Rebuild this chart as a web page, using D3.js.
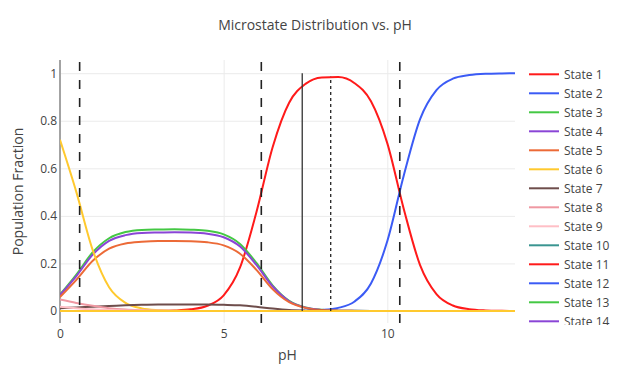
<!doctype html>
<html>
<head>
    <meta charset="utf-8" />
    <title></title>
    <style>
        body { margin: 0; background: #fff; }
        svg text { font-family: "Open Sans", sans-serif; fill: #444; }
    </style>
</head>
<body>
    <div id="chart"></div>

    <script src="https://cdn.jsdelivr.net/npm/d3@7"></script>
    <script>
        // pH grid the populations were read at
        var ph = [0, 0.5, 1, 1.5, 2, 2.5, 3, 3.5, 4, 4.5, 5, 5.5, 6, 6.5, 7,
                  7.5, 8, 8.5, 9, 9.5, 10, 10.5, 11, 11.5, 12, 12.5, 13, 13.5, 13.9];

        var state1 = [0, 0, 0, 0, 0.0001, 0.0002, 0.0007, 0.0022, 0.007, 0.022, 0.066, 0.183, 0.415, 0.691, 0.876,
                      0.955, 0.982, 0.984, 0.958, 0.882, 0.705, 0.43, 0.193, 0.071, 0.023, 0.0075, 0.0024, 0.0008, 0.0003];
        var state2 = [0, 0, 0, 0, 0, 0, 0, 0, 0, 0, 0, 0, 0, 0.0001, 0.0004,
                      0.0013, 0.0041, 0.013, 0.04, 0.116, 0.294, 0.569, 0.807, 0.929, 0.977, 0.992, 0.9976, 0.9992, 0.9997];
        var state3 = [0.069, 0.153, 0.247, 0.306, 0.332, 0.341, 0.343, 0.344, 0.342, 0.337, 0.322, 0.282, 0.202, 0.107, 0.043,
                      0.015, 0.005, 0.0015, 0.0005, 0.0001, 0, 0, 0, 0, 0, 0, 0, 0, 0];
        var state4 = [0.067, 0.147, 0.237, 0.295, 0.319, 0.328, 0.33, 0.331, 0.33, 0.325, 0.31, 0.271, 0.194, 0.103, 0.041,
                      0.014, 0.0046, 0.0015, 0.0005, 0.0001, 0, 0, 0, 0, 0, 0, 0, 0, 0];
        var state5 = [0.059, 0.131, 0.211, 0.262, 0.284, 0.291, 0.294, 0.294, 0.293, 0.289, 0.276, 0.241, 0.173, 0.091, 0.037,
                      0.013, 0.004, 0.0013, 0.0004, 0.0001, 0, 0, 0, 0, 0, 0, 0, 0, 0];
        var state6 = [0.72, 0.5, 0.256, 0.1, 0.0345, 0.011, 0.0036, 0.0011, 0.0004, 0.0001, 0, 0, 0, 0, 0,
                      0, 0, 0, 0, 0, 0, 0, 0, 0, 0, 0, 0, 0, 0];
        var state7 = [0.012, 0.015, 0.018, 0.021, 0.024, 0.026, 0.027, 0.027, 0.027, 0.027, 0.026, 0.024, 0.018, 0.01, 0.004,
                      0.0015, 0.0005, 0.0002, 0, 0, 0, 0, 0, 0, 0, 0, 0, 0, 0];
        var state8 = [0.048, 0.034, 0.022, 0.012, 0.006, 0.003, 0.001, 0.0005, 0, 0, 0, 0, 0, 0, 0,
                      0, 0, 0, 0, 0, 0, 0, 0, 0, 0, 0, 0, 0, 0];
        var state9 = [0.018, 0.012, 0.007, 0.004, 0.002, 0.001, 0.0005, 0, 0, 0, 0, 0, 0, 0, 0,
                      0, 0, 0, 0, 0, 0, 0, 0, 0, 0, 0, 0, 0, 0];
        // states 10-16 stay at zero over the whole range
        var stateFlat = [0, 0, 0, 0, 0, 0, 0, 0, 0, 0, 0, 0, 0, 0, 0,
                         0, 0, 0, 0, 0, 0, 0, 0, 0, 0, 0, 0, 0, 0];

        var stateNames = ["State 1", "State 2", "State 3", "State 4", "State 5", "State 6", "State 7", "State 8",
                          "State 9", "State 10", "State 11", "State 12", "State 13", "State 14", "State 15", "State 16"];
        var stateValues = [state1, state2, state3, state4, state5, state6, state7, state8,
                           state9, stateFlat, stateFlat, stateFlat, stateFlat, stateFlat, stateFlat, stateFlat];
        var colors = ["#ff1a1a", "#3b5bf5", "#44c844", "#8a45d6", "#ec6a37", "#ffc92e", "#6e4d4b", "#ef98a2", "#ffbfc6", "#3a9591"];

        // pKa markers and reference lines
        var pkaPh = [0.6, 6.15, 10.38];
        var physPh = 7.4;
        var peakPh = 8.27, peakValue = 0.985;

        var xTicks = [0, 5, 10];
        var yTicks = [0, 0.2, 0.4, 0.6, 0.8, 1];

        var W = 630, H = 365;
        var pLeft = 60, pRight = 515, pTop = 60, pBottom = 323;

        var svg = d3.select("#chart").append("svg").attr("width", W).attr("height", H);

        var x = d3.scaleLinear().domain([0, 13.9]).range([pLeft, pRight]);
        var y = d3.scaleLinear().domain([-0.0505, 1.0555]).range([pBottom, pTop]);

        // grid + tick labels
        var yAxis = svg.append("g").attr("transform", "translate(" + pLeft + ",0)")
            .call(d3.axisLeft(y).tickValues(yTicks).tickSize(-(pRight - pLeft)).tickPadding(3).tickFormat(d3.format("~g")));
        yAxis.select(".domain").remove();
        yAxis.selectAll("line").attr("stroke", "#ebebeb");
        yAxis.selectAll("text").attr("font-size", 12).style("fill", "#444");

        var xAxis = svg.append("g").attr("transform", "translate(0," + pBottom + ")")
            .call(d3.axisBottom(x).tickValues(xTicks).tickSize(-(pBottom - pTop)).tickPadding(6.5));
        xAxis.select(".domain").remove();
        xAxis.selectAll("line").attr("stroke", "#ebebeb");
        xAxis.selectAll("text").attr("font-size", 12).style("fill", "#444");

        // zero lines
        svg.append("line").attr("x1", pLeft).attr("x2", pRight).attr("y1", y(0)).attr("y2", y(0))
            .attr("stroke", "#a3a3a3").attr("stroke-width", 2);
        svg.append("line").attr("x1", x(0)).attr("x2", x(0)).attr("y1", pTop).attr("y2", pBottom)
            .attr("stroke", "#a3a3a3").attr("stroke-width", 2);

        svg.append("clipPath").attr("id", "plotclip").append("rect")
            .attr("x", pLeft).attr("y", pTop).attr("width", pRight - pLeft).attr("height", pBottom - pTop);

        var plot = svg.append("g").attr("clip-path", "url(#plotclip)");

        var line = d3.line()
            .x(function(d, i) { return x(ph[i]); })
            .y(function(d) { return y(d); })
            .curve(d3.curveMonotoneX);

        plot.selectAll("path.state").data(stateValues).enter().append("path")
            .attr("class", "state")
            .attr("d", line)
            .attr("fill", "none")
            .attr("stroke", function(d, i) { return colors[i % colors.length]; })
            .attr("stroke-width", 2);

        // reference lines
        plot.selectAll("line.pka").data(pkaPh).enter().append("line")
            .attr("class", "pka")
            .attr("x1", function(d) { return x(d); }).attr("x2", function(d) { return x(d); })
            .attr("y1", pBottom).attr("y2", pTop)
            .attr("stroke", "#222").attr("stroke-width", 1.6).attr("stroke-dasharray", "9,9");

        plot.append("line")
            .attr("x1", x(physPh)).attr("x2", x(physPh)).attr("y1", y(0)).attr("y2", y(1))
            .attr("stroke", "#333").attr("stroke-width", 1.3);

        plot.append("line")
            .attr("x1", x(peakPh)).attr("x2", x(peakPh)).attr("y1", y(0)).attr("y2", y(peakValue))
            .attr("stroke", "#222").attr("stroke-width", 1.3).attr("stroke-dasharray", "3,3");

        // titles
        svg.append("text").attr("x", W / 2).attr("y", 30).attr("text-anchor", "middle")
            .attr("font-size", 14).text("Microstate Distribution vs. pH");
        svg.append("text").attr("x", (pLeft + pRight) / 2).attr("y", 360).attr("text-anchor", "middle")
            .attr("font-size", 14).text("pH");
        svg.append("text").attr("transform", "translate(23," + ((pTop + pBottom) / 2) + ") rotate(-90)")
            .attr("text-anchor", "middle").attr("font-size", 14).text("Population Fraction");

        // legend: the box only has room for 14 rows, the last one cut by the clip
        svg.append("clipPath").attr("id", "legclip").append("rect")
            .attr("x", 520).attr("y", pTop).attr("width", 110).attr("height", 265);

        var legend = svg.append("g").attr("clip-path", "url(#legclip)")
            .selectAll("g").data(stateNames.slice(0, 14)).enter().append("g")
            .attr("transform", function(d, i) { return "translate(529," + (74.3 + i * 19) + ")"; });

        legend.append("line").attr("x1", 0).attr("x2", 30)
            .attr("stroke", function(d, i) { return colors[i % colors.length]; })
            .attr("stroke-width", 2);
        legend.append("text").attr("x", 35).attr("dy", "0.35em").attr("font-size", 12)
            .text(function(d) { return d; });
    </script>
</body>
</html>
